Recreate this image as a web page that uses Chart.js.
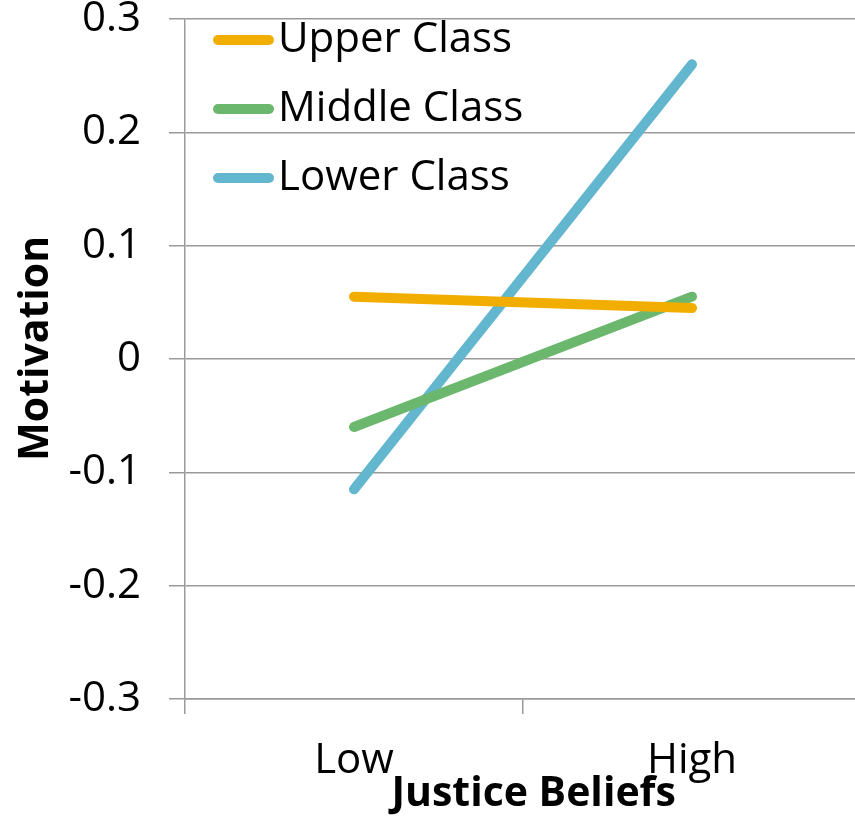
<!DOCTYPE html>
<html>
<head>
<meta charset="utf-8">
<script src="https://cdn.jsdelivr.net/npm/chart.js@4"></script>
<style>
html,body{margin:0;padding:0;background:#fff;overflow:hidden;}
#wrap{width:862px;height:816px;}
</style>
</head>
<body>
<div id="wrap"><canvas id="c" width="862" height="816"></canvas></div>
<script>
const categories = ["Low", "High"];
const upperClass = [0.055, 0.045];
const middleClass = [-0.06, 0.055];
const lowerClass = [-0.115, 0.26];
const yTickLabels = {"0.3":"0.3","0.2":"0.2","0.1":"0.1","0":"0","-0.1":"-0.1","-0.2":"-0.2","-0.3":"-0.3"};

const FONT = "'Open Sans', sans-serif";
const GRID = "#9a9a9a";

// legend swatch: thick rounded line, drawn as a small image
function swatch(color) {
  const c = document.createElement('canvas');
  c.width = 79; c.height = 14;
  const g = c.getContext('2d');
  g.strokeStyle = color; g.lineWidth = 10; g.lineCap = 'round';
  g.beginPath(); g.moveTo(23, 7); g.lineTo(74, 7); g.stroke();
  return c;
}

new Chart(document.getElementById('c'), {
  type: 'line',
  data: {
    labels: categories,
    datasets: [
      {label: "Upper Class", data: upperClass, borderColor: "#F2AE00", backgroundColor: "#F2AE00"},
      {label: "Middle Class", data: middleClass, borderColor: "#6BB76E", backgroundColor: "#6BB76E"},
      {label: "Lower Class", data: lowerClass, borderColor: "#62B6CD", backgroundColor: "#62B6CD"}
    ].map(d => Object.assign(d, {borderWidth: 10, borderCapStyle: 'round', pointRadius: 0, pointHoverRadius: 0, tension: 0, fill: false}))
  },
  options: {
    responsive: false,
    animation: false,
    events: [],
    layout: {padding: {top: 19, right: 1, left: 0, bottom: 0}},
    plugins: {
      tooltip: {enabled: false},
      legend: {
        position: 'chartArea',
        align: 'start',
        title: {display: true, text: '', font: {size: 2, lineHeight: 1}, padding: {top: -10, bottom: 0}},
        labels: {
          usePointStyle: true,
          pointStyleWidth: 45,
          boxHeight: 10,
          padding: 27,
          color: '#000',
          font: {family: FONT, size: 42, lineHeight: 1.1},
          generateLabels: chart => Chart.defaults.plugins.legend.labels.generateLabels(chart).map(l => {
            l.pointStyle = swatch(chart.data.datasets[l.datasetIndex].borderColor);
            return l;
          })
        }
      }
    },
    scales: {
      x: {
        type: 'category',
        offset: true,
        afterFit: s => { s.height = 117; s.paddingLeft = 0; s.paddingRight = 0; },
        grid: {offset: true, drawOnChartArea: false, drawTicks: true, tickLength: 15, color: GRID, lineWidth: 1.5},
        border: {color: GRID, width: 1.5},
        ticks: {color: '#000', padding: 22, font: {family: FONT, size: 42}},
        title: {display: true, text: '  Justice Beliefs', color: '#000', font: {family: FONT, size: 41, weight: 'bold', lineHeight: 1}, padding: {top: 0, bottom: 1}}
      },
      y: {
        min: -0.3, max: 0.3,
        afterFit: s => { s.width = 185; s.paddingTop = 0; s.paddingBottom = 0; },
        grid: {color: GRID, lineWidth: 1.5, tickLength: 16},
        border: {color: GRID, width: 1.5},
        ticks: {
          stepSize: 0.1, color: '#000', padding: 28,
          font: {family: FONT, size: 42},
          callback: v => yTickLabels[String(Math.round(v * 10) / 10)]
        },
        title: {display: true, text: '  Motivation', color: '#000', font: {family: FONT, size: 41, weight: 'bold', lineHeight: 1}, padding: {top: 16, bottom: 0}}
      }
    }
  }
});
</script>
</body>
</html>
